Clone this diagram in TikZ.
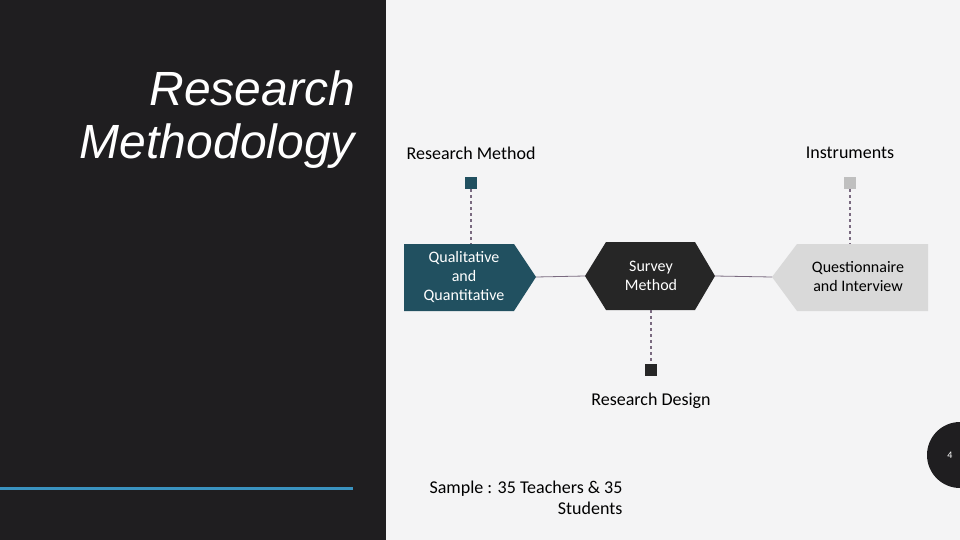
\documentclass[tikz,border=0pt]{standalone}
\usepackage{fontspec}
\setmainfont{Carlito}
\newfontfamily\titlefont{Liberation Sans}
\definecolor{panel}{HTML}{1F1E20}
\definecolor{bgc}{HTML}{F4F4F5}
\definecolor{teal}{HTML}{215060}
\definecolor{darkbox}{HTML}{262626}
\definecolor{lightbox}{HTML}{D9D9D9}
\definecolor{sqgray}{HTML}{BFBFBF}
\definecolor{dashc}{HTML}{7A6A80}
\definecolor{bluel}{HTML}{3A93C0}
\begin{document}
\begin{tikzpicture}[x=1pt,y=-1pt,
  lbl/.style={font=\fontsize{18}{21}\selectfont,text=black},
  box/.style={font=\fontsize{16}{19}\selectfont,align=center},
  sq/.style={minimum size=12pt,inner sep=0pt},
  dashln/.style={draw=dashc,dashed,line width=1.3pt},
  conn/.style={draw=dashc,line width=0.8pt}]
\fill[bgc] (0,0) rectangle (960,540);
\fill[panel] (0,0) rectangle (386,540);
\useasboundingbox (0,0) rectangle (960,540);
\node[anchor=east,font=\titlefont\itshape\fontsize{48}{53}\selectfont,text=white,align=right,inner sep=0] (title) at (355,120) {Research\\Methodology};
\fill[bluel] (0,487) rectangle (353,489.5);
\fill[panel] (960,455) circle (33);
\node[text=white,font=\fontsize{10}{12}\selectfont] (pg) at (950,455) {4};
% shapes
\fill[teal] (404,244) -- (514,244) -- (536,277) -- (514,311) -- (404,311) -- cycle;
\node[box,text=white] (qq) at (464,277) {Qualitative\\and\\Quantitative};
\fill[darkbox] (585,276) -- (606,242) -- (695,242) -- (715,276) -- (695,310) -- (606,310) -- cycle;
\node[box,text=white] (sm) at (651,276) {Survey\\Method};
\fill[lightbox] (772,277) -- (797,244) -- (928,244) -- (928,311) -- (797,311) -- cycle;
\node[box,text=black] (qi) at (858,277) {Questionnaire\\and Interview};
\coordinate (qqr) at (536,277); \coordinate (sml) at (585,276);
\coordinate (smr) at (715,276); \coordinate (qil) at (772,277);
\draw[conn] (qqr) -- (sml); \draw[conn] (smr) -- (qil);
% squares
\node[sq,fill=teal] (s1) at (471,183) {};
\node[sq,fill=sqgray] (s2) at (850,183) {};
\node[sq,fill=darkbox] (s3) at (651,370) {};
\draw[dashln] (s1.south) -- (471,244);
\draw[dashln] (s2.south) -- (850,244);
\draw[dashln] (651,310) -- (s3.north);
\node[lbl] (l1) at (471,153) {Research Method};
\node[lbl] (l2) at (850,153) {Instruments};
\node[lbl] (l3) at (651,401) {Research Design};
\node[lbl,align=right,anchor=north east] (samp) at (626,477) {Sample : 35 Teachers \& 35\\Students};
\end{tikzpicture}
\end{document}
